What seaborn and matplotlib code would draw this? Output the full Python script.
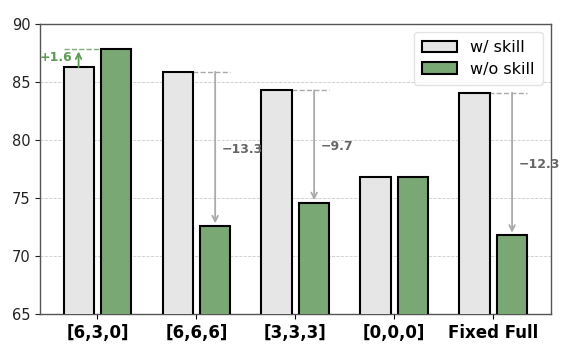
import matplotlib
matplotlib.use("Agg")
import matplotlib.pyplot as plt
import seaborn as sns
import pandas as pd

categories = ["[6,3,0]", "[6,6,6]", "[3,3,3]", "[0,0,0]", "Fixed Full"]
with_skill = [86.3, 85.9, 84.3, 76.8, 84.1]
without_skill = [87.9, 72.6, 74.6, 76.8, 71.8]
series_names = ["w/ skill", "w/o skill"]
delta_labels = ["+1.6", "\u221213.3", "\u22129.7", "", "\u221212.3"]

df = pd.DataFrame({
    "config": categories * 2,
    "score": with_skill + without_skill,
    "setting": [series_names[0]] * len(categories) + [series_names[1]] * len(categories),
})

fig, ax = plt.subplots(figsize=(5.68, 3.52), dpi=100)
fig.subplots_adjust(left=0.0704, right=0.9695, top=0.931, bottom=0.107)

palette = {series_names[0]: "#e6e6e6", series_names[1]: "#7aa874"}
sns.barplot(data=df, x="config", y="score", hue="setting", hue_order=series_names,
            order=categories, palette=palette, saturation=1, edgecolor="black",
            linewidth=1.5, width=0.76, gap=0.2, ax=ax, zorder=3, errorbar=None)

ax.set_ylim(65, 90)
ax.set_xlim(-0.58, 4.58)
ax.set_yticks([65, 70, 75, 80, 85, 90])
ax.yaxis.grid(True, linestyle="--", color="#cccccc", linewidth=0.6, zorder=0)
ax.set_axisbelow(True)
ax.set_xlabel("")
ax.set_ylabel("")
ax.tick_params(axis="y", labelsize=10.5, length=3.5, colors="#222222")
ax.tick_params(axis="x", labelsize=12, length=3.5)
for lab in ax.get_xticklabels():
    lab.set_fontweight("bold")
for sp in ax.spines.values():
    sp.set_color("#555555")
    sp.set_linewidth(1.0)

w_bars = ax.containers[0]
wo_bars = ax.containers[1]
green = "#5e9a56"
grey_line = "#aaaaaa"
grey_text = "#666666"
for i in range(len(categories)):
    w = with_skill[i]
    wo = without_skill[i]
    lab = delta_labels[i]
    if not lab:
        continue
    bw = w_bars[i]
    bo = wo_bars[i]
    wc = bw.get_x() + bw.get_width() / 2
    oc = bo.get_x() + bo.get_width() / 2
    if wo > w:
        ax.hlines(wo, bw.get_x(), bo.get_x() + bo.get_width() / 2, colors=green,
                  linestyles="--", linewidth=1.0, zorder=2, alpha=0.8)
        ax.annotate("", xy=(wc, wo), xytext=(wc, w),
                    arrowprops=dict(arrowstyle="->", color=green, lw=1.3,
                                    shrinkA=0, shrinkB=2), zorder=4)
        ax.text(wc - 0.06, (w + wo) / 2, lab, ha="right", va="center",
                fontsize=9, fontweight="bold", color=green, zorder=5)
    else:
        ax.hlines(w, wc, bo.get_x() + bo.get_width(), colors=grey_line,
                  linestyles="--", linewidth=1.0, zorder=2)
        ax.annotate("", xy=(oc, wo), xytext=(oc, w),
                    arrowprops=dict(arrowstyle="->", color=grey_line, lw=1.3,
                                    shrinkA=0, shrinkB=2), zorder=4)
        ax.text(oc + 0.07, (w + wo) / 2, lab, ha="left", va="center",
                fontsize=9, fontweight="bold", color=grey_text, zorder=5)

leg = ax.legend(loc="upper right", fontsize=11.5, frameon=True, handlelength=2.2,
                borderpad=0.5, labelspacing=0.4)
leg.get_frame().set_edgecolor("#dddddd")

fig.savefig("out.png", dpi=100)
